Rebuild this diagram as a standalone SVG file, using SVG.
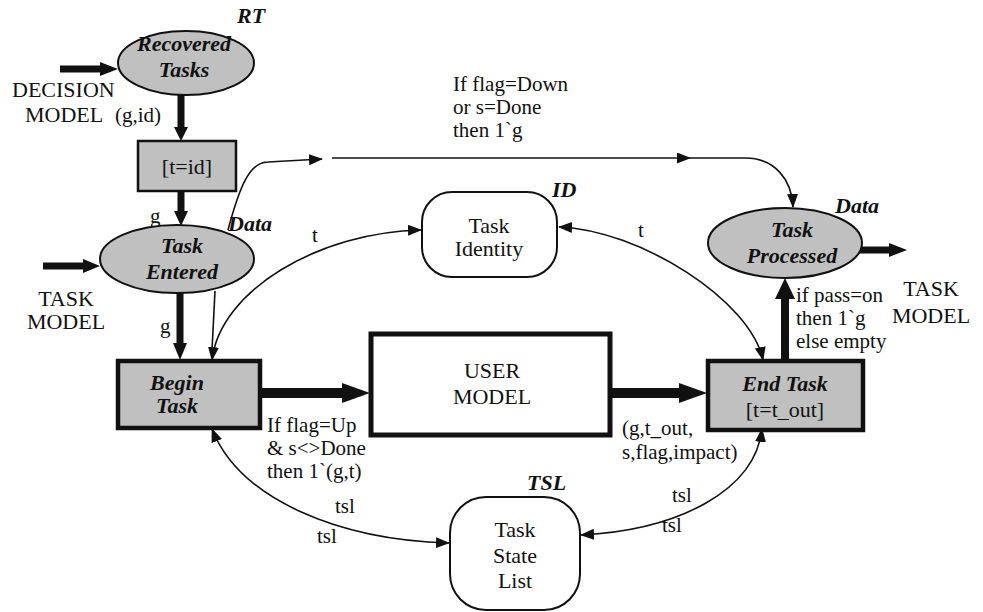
<svg xmlns="http://www.w3.org/2000/svg" width="983" height="612" viewBox="0 0 983 612" font-family="Liberation Serif, Tinos, Times New Roman, DejaVu Serif, serif">
<style>
text{font-family:'Liberation Serif',Tinos,'Times New Roman','DejaVu Serif',serif;fill:#111}
.lbl{font-size:21px}
.nm{font-size:22px}
.bi{font-size:22px;font-weight:bold;font-style:italic}
.place{fill:#c0c0c0;stroke:#111;stroke-width:2}
.trans{fill:#c0c0c0;stroke:#111;stroke-width:4.5}
.guard{fill:#c0c0c0;stroke:#111;stroke-width:2.5}
.res{fill:#fff;stroke:#111;stroke-width:2}
.thin{fill:none;stroke:#111;stroke-width:1.6}
.thick{stroke:#111}
.head{fill:#111}
</style>
<defs>
<marker id="ah" markerUnits="userSpaceOnUse" markerWidth="14" markerHeight="12" refX="13" refY="5.5" orient="auto-start-reverse">
<path d="M0,0 L14,5.5 L0,11 z" fill="#111"/>
</marker>
</defs>
<rect width="983" height="612" fill="#fff"/>

<g id="connectors">
<line class="thick" x1="60" y1="69" x2="102" y2="69" stroke-width="7"/>
<polygon class="head" points="100,62 118,69 100,76"/>
<line class="thick" x1="181" y1="95" x2="181" y2="128" stroke-width="7"/>
<polygon class="head" points="174,127 188,127 181,141"/>
<line class="thick" x1="181" y1="191" x2="181" y2="212" stroke-width="7"/>
<polygon class="head" points="174,211 188,211 181,226"/>
<line class="thick" x1="43" y1="266" x2="84" y2="266" stroke-width="7"/>
<polygon class="head" points="83,259 100,266 83,273"/>
<line class="thick" x1="180" y1="293" x2="180" y2="344" stroke-width="7"/>
<polygon class="head" points="173,343 187,343 180,360"/>
<line class="thick" x1="262" y1="393" x2="343" y2="393" stroke-width="10"/>
<polygon class="head" points="342,383 370,393 342,403"/>
<line class="thick" x1="610" y1="393" x2="680" y2="393" stroke-width="10"/>
<polygon class="head" points="679,383 707,393 679,403"/>
<line class="thick" x1="785" y1="359" x2="785" y2="298" stroke-width="8"/>
<polygon class="head" points="775,299 795,299 785,278"/>
<line class="thick" x1="860" y1="250" x2="890" y2="250" stroke-width="7"/>
<polygon class="head" points="889,243 907,250 889,257"/>
<path class="thin" d="M228,230 C240,185 250,162 268,162 L322,159" marker-end="url(#ah)"/>
<path class="thin" d="M332,158 L690,158" marker-end="url(#ah)"/>
<path class="thin" d="M690,158 L745,158 C775,158 792,180 793,207" marker-end="url(#ah)"/>
<path class="thin" d="M215,291 L212,350"/>
<path class="thin" d="M212,360 C220,290 320,232 421,230" marker-start="url(#ah)" marker-end="url(#ah)"/>
<path class="thin" d="M559,227 C640,230 750,300 763,360" marker-start="url(#ah)" marker-end="url(#ah)"/>
<path class="thin" d="M212,429 C240,500 340,540 449,543" marker-start="url(#ah)" marker-end="url(#ah)"/>
<path class="thin" d="M762,429 C755,490 680,530 581,535" marker-start="url(#ah)" marker-end="url(#ah)"/>
<text class="lbl" x="115" y="122">(g,id)</text>
<text class="lbl" x="150" y="223">g</text>
<text class="lbl" x="160" y="333">g</text>
<text class="lbl" x="312" y="242">t</text>
<text class="lbl" x="638" y="237">t</text>
<text class="lbl" x="453" y="91">If flag=Down</text>
<text class="lbl" x="453" y="114">or s=Done</text>
<text class="lbl" x="453" y="137">then 1`g</text>
<text class="lbl" x="796" y="302">if pass=on</text>
<text class="lbl" x="796" y="325">then 1`g</text>
<text class="lbl" x="796" y="348">else empty</text>
<text class="lbl" x="267" y="432">If flag=Up</text>
<text class="lbl" x="267" y="455">&amp; s&lt;&gt;Done</text>
<text class="lbl" x="267" y="478">then 1`(g,t)</text>
<text class="lbl" x="622" y="435">(g,t_out,</text>
<text class="lbl" x="622" y="459">s,flag,impact)</text>
<text class="lbl" x="335" y="513">tsl</text>
<text class="lbl" x="317" y="543">tsl</text>
<text class="lbl" x="672" y="502">tsl</text>
<text class="lbl" x="662" y="532">tsl</text>
</g>

<g id="decision-model">
<text class="nm" x="12" y="97">DECISION</text>
<text class="nm" x="25" y="122">MODEL</text>
</g>
<g id="task-model-in">
<text class="nm" x="66" y="306" text-anchor="middle">TASK</text>
<text class="nm" x="66" y="329" text-anchor="middle">MODEL</text>
</g>
<g id="task-model-out">
<text class="nm" x="931" y="296" text-anchor="middle">TASK</text>
<text class="nm" x="931" y="323" text-anchor="middle">MODEL</text>
</g>

<g id="recovered-tasks">
<ellipse class="place" cx="186" cy="63" rx="68" ry="32"/>
<text class="bi" x="184" y="51" text-anchor="middle">Recovered</text>
<text class="bi" x="184" y="77" text-anchor="middle">Tasks</text>
<text class="bi" x="237" y="23">RT</text>
</g>

<g id="guard-t-id">
<rect class="guard" x="138" y="141" width="98" height="50"/>
<text class="nm" x="187" y="174" text-anchor="middle">[t=id]</text>
</g>

<g id="task-entered">
<ellipse class="place" cx="177" cy="259" rx="77" ry="34"/>
<text class="bi" x="182" y="253" text-anchor="middle">Task</text>
<text class="bi" x="182" y="279" text-anchor="middle">Entered</text>
<text class="bi" x="228" y="231">Data</text>
</g>

<g id="task-identity">
<rect class="res" x="422" y="192" width="135" height="85" rx="30"/>
<text class="nm" x="489" y="233" text-anchor="middle">Task</text>
<text class="nm" x="489" y="256" text-anchor="middle">Identity</text>
<text class="bi" x="552" y="197">ID</text>
</g>

<g id="task-processed">
<ellipse class="place" cx="785" cy="243" rx="77" ry="35"/>
<text class="bi" x="792" y="237" text-anchor="middle">Task</text>
<text class="bi" x="792" y="263" text-anchor="middle">Processed</text>
<text class="bi" x="835" y="213">Data</text>
</g>

<g id="begin-task">
<rect class="trans" x="118" y="361" width="142" height="67"/>
<text class="bi" x="177" y="390" text-anchor="middle">Begin</text>
<text class="bi" x="177" y="413" text-anchor="middle">Task</text>
</g>

<g id="user-model">
<rect x="371" y="334" width="239" height="101" fill="#fff" stroke="#111" stroke-width="5"/>
<text class="nm" x="492" y="378" text-anchor="middle">USER</text>
<text class="nm" x="492" y="404" text-anchor="middle">MODEL</text>
</g>

<g id="end-task">
<rect class="trans" x="708" y="361" width="155" height="69"/>
<text class="bi" x="785" y="391" text-anchor="middle">End Task</text>
<text class="nm" x="785" y="417" text-anchor="middle">[t=t_out]</text>
</g>

<g id="task-state-list">
<rect class="res" x="450" y="497" width="130" height="113" rx="36"/>
<text class="nm" x="515" y="537" text-anchor="middle">Task</text>
<text class="nm" x="515" y="563" text-anchor="middle">State</text>
<text class="nm" x="515" y="588" text-anchor="middle">List</text>
<text class="bi" x="527" y="490">TSL</text>
</g>
</svg>
